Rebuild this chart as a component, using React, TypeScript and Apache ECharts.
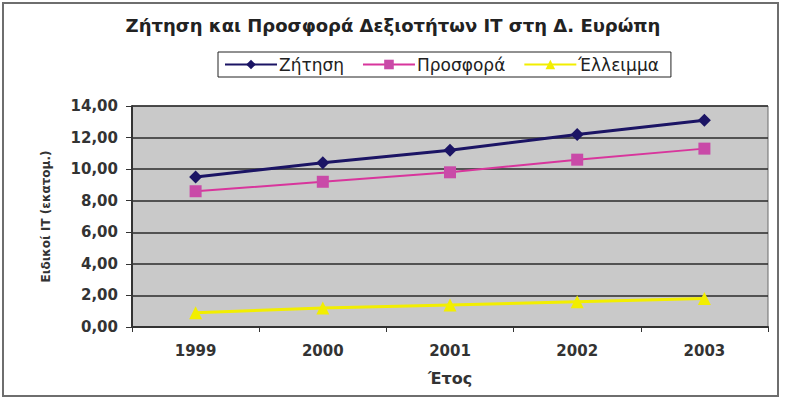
import React, { useEffect, useRef } from "react";
import * as echarts from "echarts";

const years = ["1999", "2000", "2001", "2002", "2003"];
const demand = [9.5, 10.4, 11.2, 12.2, 13.1];
const supply = [8.6, 9.2, 9.8, 10.6, 11.3];
const shortfall = [0.9, 1.2, 1.4, 1.6, 1.8];
const seriesNames = ["Ζήτηση", "Προσφορά", "Έλλειμμα"];
const titleText = "Ζήτηση και Προσφορά Δεξιοτήτων IT στη Δ. Ευρώπη";
const yAxisName = "Ειδικοί IT (εκατομ.)";
const xAxisName = "Έτος";

const FONT = "DejaVu Sans, Verdana, sans-serif";

export default function App() {
  const ref = useRef<HTMLDivElement>(null);
  useEffect(() => {
    document.body.style.margin = "0";
    const chart = echarts.init(ref.current!, null, { renderer: "svg" });
    chart.setOption({
      animation: false,
      backgroundColor: "#ffffff",
      textStyle: { fontFamily: FONT },
      graphic: [
        {
          type: "rect",
          shape: { x: 3, y: 3, width: 775, height: 393 },
          style: { fill: "none", stroke: "#6e6e6e", lineWidth: 2 },
          z: -1,
        },
      ],
      title: {
        text: titleText,
        left: "center",
        top: 11,
        textStyle: { fontFamily: FONT, fontSize: 18, fontWeight: "bold", color: "#222" },
      },
      legend: {
        top: 52,
        left: 218,
        padding: [4, 12, 4, 6],
        borderColor: "#222",
        borderWidth: 1,
        itemWidth: 52,
        itemHeight: 12,
        itemGap: 18,
        textStyle: { fontFamily: FONT, fontSize: 17, color: "#222", padding: [0, 0, 0, -3] },
        data: seriesNames,
      },
      grid: {
        left: 132,
        right: 18,
        top: 106,
        bottom: 74,
        show: true,
        backgroundColor: "#c9c9c9",
        borderColor: "#6a6a6a",
        borderWidth: 1,
      },
      xAxis: {
        type: "category",
        data: years,
        boundaryGap: true,
        name: xAxisName,
        nameLocation: "middle",
        nameGap: 43,
        nameTextStyle: { fontFamily: FONT, fontSize: 16, fontWeight: "bold", color: "#333" },
        axisLine: { show: true, lineStyle: { color: "#333", width: 2 } },
        axisTick: { show: true, length: 5, lineStyle: { color: "#333" } },
        axisLabel: { margin: 16, fontFamily: FONT, fontSize: 15, fontWeight: "bold", color: "#333" },
        splitLine: { show: false },
      },
      yAxis: {
        type: "value",
        min: 0,
        max: 14,
        interval: 2,
        name: yAxisName,
        nameLocation: "middle",
        nameGap: 80,
        nameTextStyle: { fontFamily: FONT, fontSize: 12, fontWeight: "bold", color: "#333" },
        axisLine: { show: true, lineStyle: { color: "#333", width: 2 } },
        axisTick: { show: true, length: 6, lineStyle: { color: "#333" } },
        axisLabel: {
          margin: 14,
          fontFamily: FONT,
          fontSize: 15,
          fontWeight: "bold",
          color: "#333",
          formatter: (v: number) => v.toFixed(2).replace(".", ","),
        },
        splitLine: { show: true, lineStyle: { color: "#2a2a2a", width: 1.5 } },
      },
      series: [
        {
          name: seriesNames[0],
          type: "line",
          data: demand,
          symbol: "diamond",
          symbolSize: 13,
          lineStyle: { color: "#1b1464", width: 3 },
          itemStyle: { color: "#1b1464" },
        },
        {
          name: seriesNames[1],
          type: "line",
          data: supply,
          symbol: "rect",
          symbolSize: 12,
          lineStyle: { color: "#d8359c", width: 2 },
          itemStyle: { color: "#c94aa8" },
        },
        {
          name: seriesNames[2],
          type: "line",
          data: shortfall,
          symbol: "triangle",
          symbolSize: 13,
          lineStyle: { color: "#f2ee00", width: 3 },
          itemStyle: { color: "#f2ee00" },
        },
      ],
    });
    return () => chart.dispose();
  }, []);
  return (
    <div
      ref={ref}
      style={{ position: "absolute", left: 0, top: 0, width: 786, height: 401 }}
    />
  );
}
